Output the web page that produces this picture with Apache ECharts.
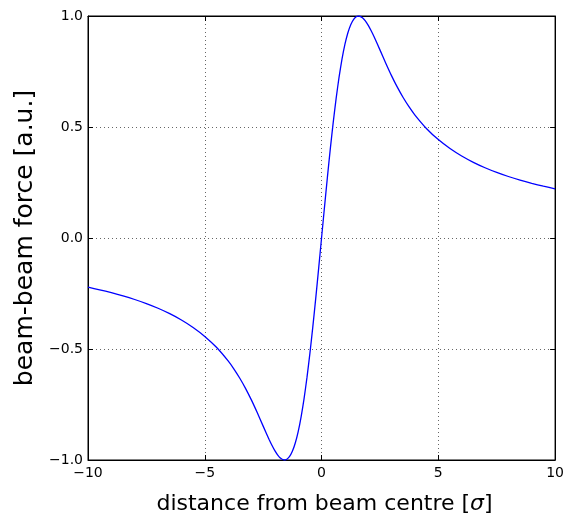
<!DOCTYPE html>
<html>
<head>
<meta charset="utf-8">
<script src="https://cdn.jsdelivr.net/npm/echarts@6/dist/echarts.min.js"></script>
<style>html,body{margin:0;padding:0;background:#fff}#c{width:567px;height:520px}</style>
</head>
<body>
<div id="c"></div>
<script>
const xValues = [-10,-9.5,-9,-8.5,-8,-7.5,-7,-6.5,-6,-5.5,-5,-4.5,-4,-3.75,-3.5,-3.25,-3,-2.75,-2.5,-2.25,-2.125,-2,-1.875,-1.75,-1.6,-1.5,-1.375,-1.25,-1.125,-1,-0.875,-0.75,-0.625,-0.5,-0.375,-0.25,-0.125,
  0,0.125,0.25,0.375,0.5,0.625,0.75,0.875,1,1.125,1.25,1.375,1.5,1.6,1.75,1.875,2,2.125,2.25,2.5,2.75,3,3.25,3.5,3.75,4,4.5,5,5.5,6,6.5,7,7.5,8,8.5,9,9.5,10];
const yValues = [-0.2216,-0.2332,-0.2462,-0.2607,-0.2770,-0.2954,-0.3165,-0.3409,-0.3693,-0.4029,-0.4432,-0.4924,-0.5538,-0.5904,-0.6317,-0.6783,-0.7304,-0.7874,-0.8474,-0.9065,-0.9337,-0.9580,-0.9780,-0.9924,-1.0,-0.9976,-0.9853,-0.9611,-0.9236,-0.8719,-0.8054,-0.7243,-0.6290,-0.5207,-0.4012,-0.2728,-0.1379,
  0,0.1379,0.2728,0.4012,0.5207,0.6290,0.7243,0.8054,0.8719,0.9236,0.9611,0.9853,0.9976,1.0,0.9924,0.9780,0.9580,0.9337,0.9065,0.8474,0.7874,0.7304,0.6783,0.6317,0.5904,0.5538,0.4924,0.4432,0.4029,0.3693,0.3409,0.3165,0.2954,0.2770,0.2607,0.2462,0.2332,0.2216];
const xTicks = [-10,-5,0,5,10];
const yTicks = [-1.0,-0.5,0.0,0.5,1.0];
const xTitle = 'distance from beam centre [';
const xTitleSym = '\u03c3';
const yTitle = 'beam-beam force [a.u.]';

const fmtMinus = s => s.replace('-', '\u2212');
const font = 'DejaVu Sans';
const chart = echarts.init(document.getElementById('c'));
const tickCommon = {show:true, inside:true, length:5, lineStyle:{color:'#000', width:1}};
chart.setOption({
  animation:false,
  grid:{left:88, right:8, top:16, bottom:57, show:true, borderColor:'#000', borderWidth:1},
  xAxis:[{
    type:'value', min:xTicks[0], max:xTicks[xTicks.length-1], interval:xTicks[1]-xTicks[0],
    axisLine:{show:true, onZero:false, lineStyle:{color:'#000', width:1}},
    axisTick:tickCommon,
    axisLabel:{color:'#000', fontFamily:font, fontSize:14, margin:6, formatter:v=>fmtMinus(String(v))},
    splitLine:{show:true, lineStyle:{color:'#000', type:[1,3], width:1, opacity:0.6}},
    name:'{t|' + xTitle + '}{s|' + xTitleSym + '}{t|]}', nameLocation:'middle', nameGap:33,
    nameTextStyle:{padding:[0,0,0,6], rich:{t:{fontFamily:font, fontSize:22, color:'#000'}, s:{fontFamily:font, fontSize:22, fontStyle:'italic', color:'#000'}}}
  },{
    type:'value', position:'top', min:-10, max:10, interval:5,
    axisLine:{show:true, onZero:false, lineStyle:{color:'#000'}},
    axisTick:tickCommon, axisLabel:{show:false}, splitLine:{show:false}
  }],
  yAxis:[{
    type:'value', min:yTicks[0], max:yTicks[yTicks.length-1], interval:yTicks[1]-yTicks[0],
    axisLine:{show:true, onZero:false, lineStyle:{color:'#000', width:1}},
    axisTick:tickCommon,
    axisLabel:{color:'#000', fontFamily:font, fontSize:14, margin:5, formatter:v=>fmtMinus(v.toFixed(1))},
    splitLine:{show:true, lineStyle:{color:'#000', type:[1,3], width:1, opacity:0.6}},
    name:yTitle, nameLocation:'middle', nameGap:41,
    nameTextStyle:{fontFamily:font, fontSize:25, color:'#000'}
  },{
    type:'value', position:'right', min:-1, max:1, interval:0.5,
    axisLine:{show:true, onZero:false, lineStyle:{color:'#000'}},
    axisTick:tickCommon, axisLabel:{show:false}, splitLine:{show:false}
  }],
  series:[{
    type:'line', data:xValues.map((x,i)=>[x,yValues[i]]), smooth:0.2, showSymbol:false,
    lineStyle:{color:'#0000ff', width:1.3}, clip:true
  }]
});
</script>
</body>
</html>
